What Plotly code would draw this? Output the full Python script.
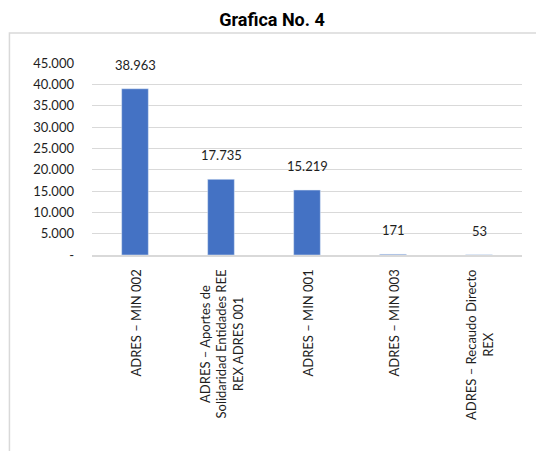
import plotly.graph_objects as go

categories = [
    "ADRES – MIN 002",
    "ADRES – Aportes de Solidaridad Entidades REE REX ADRES 001",
    "ADRES – MIN 001",
    "ADRES – MIN 003",
    "ADRES – Recaudo Directo REX",
]
axis_labels = [
    "ADRES – MIN 002",
    "ADRES – Aportes de<br>Solidaridad Entidades REE<br>REX ADRES 001",
    "ADRES – MIN 001",
    "ADRES – MIN 003",
    "ADRES – Recaudo Directo<br>REX",
]
values = [38963, 17735, 15219, 171, 53]
value_labels = ["38.963", "17.735", "15.219", "171", "53"]
ytick_vals = [0, 5000, 10000, 15000, 20000, 25000, 30000, 35000, 40000, 45000]
ytick_text = ["-", "5.000", "10.000", "15.000", "20.000", "25.000", "30.000", "35.000", "40.000", "45.000"]

FONT = "Lato, 'Open Sans', sans-serif"
TXT = "#1e1e1e"

fig = go.Figure()
fig.add_trace(go.Bar(x=categories, y=values, marker_color="#4472C4", width=0.31))

for c, v, t in zip(categories, values, value_labels):
    fig.add_annotation(x=c, y=v, text=t, showarrow=False, yanchor="bottom", yshift=14,
                       font=dict(family=FONT, size=13, color=TXT))

for c, lab in zip(categories, axis_labels):
    fig.add_annotation(x=c, y=0, yref="y", text=lab, showarrow=False, textangle=-90,
                       yanchor="top", xanchor="center", align="center", yshift=-13,
                       font=dict(family=FONT, size=13, color=TXT))

fig.add_shape(type="rect", xref="paper", yref="paper", x0=-0.192, x1=1.3, y0=-2, y1=1.156,
              line=dict(color="#d9d9d9", width=1.5), fillcolor="rgba(0,0,0,0)", layer="below")

fig.update_layout(
    width=544, height=451,
    margin=dict(l=84, r=30, t=55, b=204, autoexpand=False),
    paper_bgcolor="white", plot_bgcolor="white",
    showlegend=False,
    title=dict(text="<b>Grafica No. 4</b>", x=264 / 544, xref="container", xanchor="center",
               y=1 - 12 / 451, yanchor="middle",
               font=dict(family="Roboto, sans-serif", size=18, color="black")),
    xaxis=dict(showticklabels=False, showline=True, linecolor="#d9d9d9", linewidth=1.5, ticks="",
               automargin=False),
    yaxis=dict(range=[0, 45000], tickvals=ytick_vals, ticktext=ytick_text,
               tickfont=dict(family=FONT, size=13, color=TXT), automargin=False,
               showgrid=True, gridcolor="#d9d9d9", zeroline=False, ticks="", ticklabelstandoff=17),
)

fig.write_html("out.html")
